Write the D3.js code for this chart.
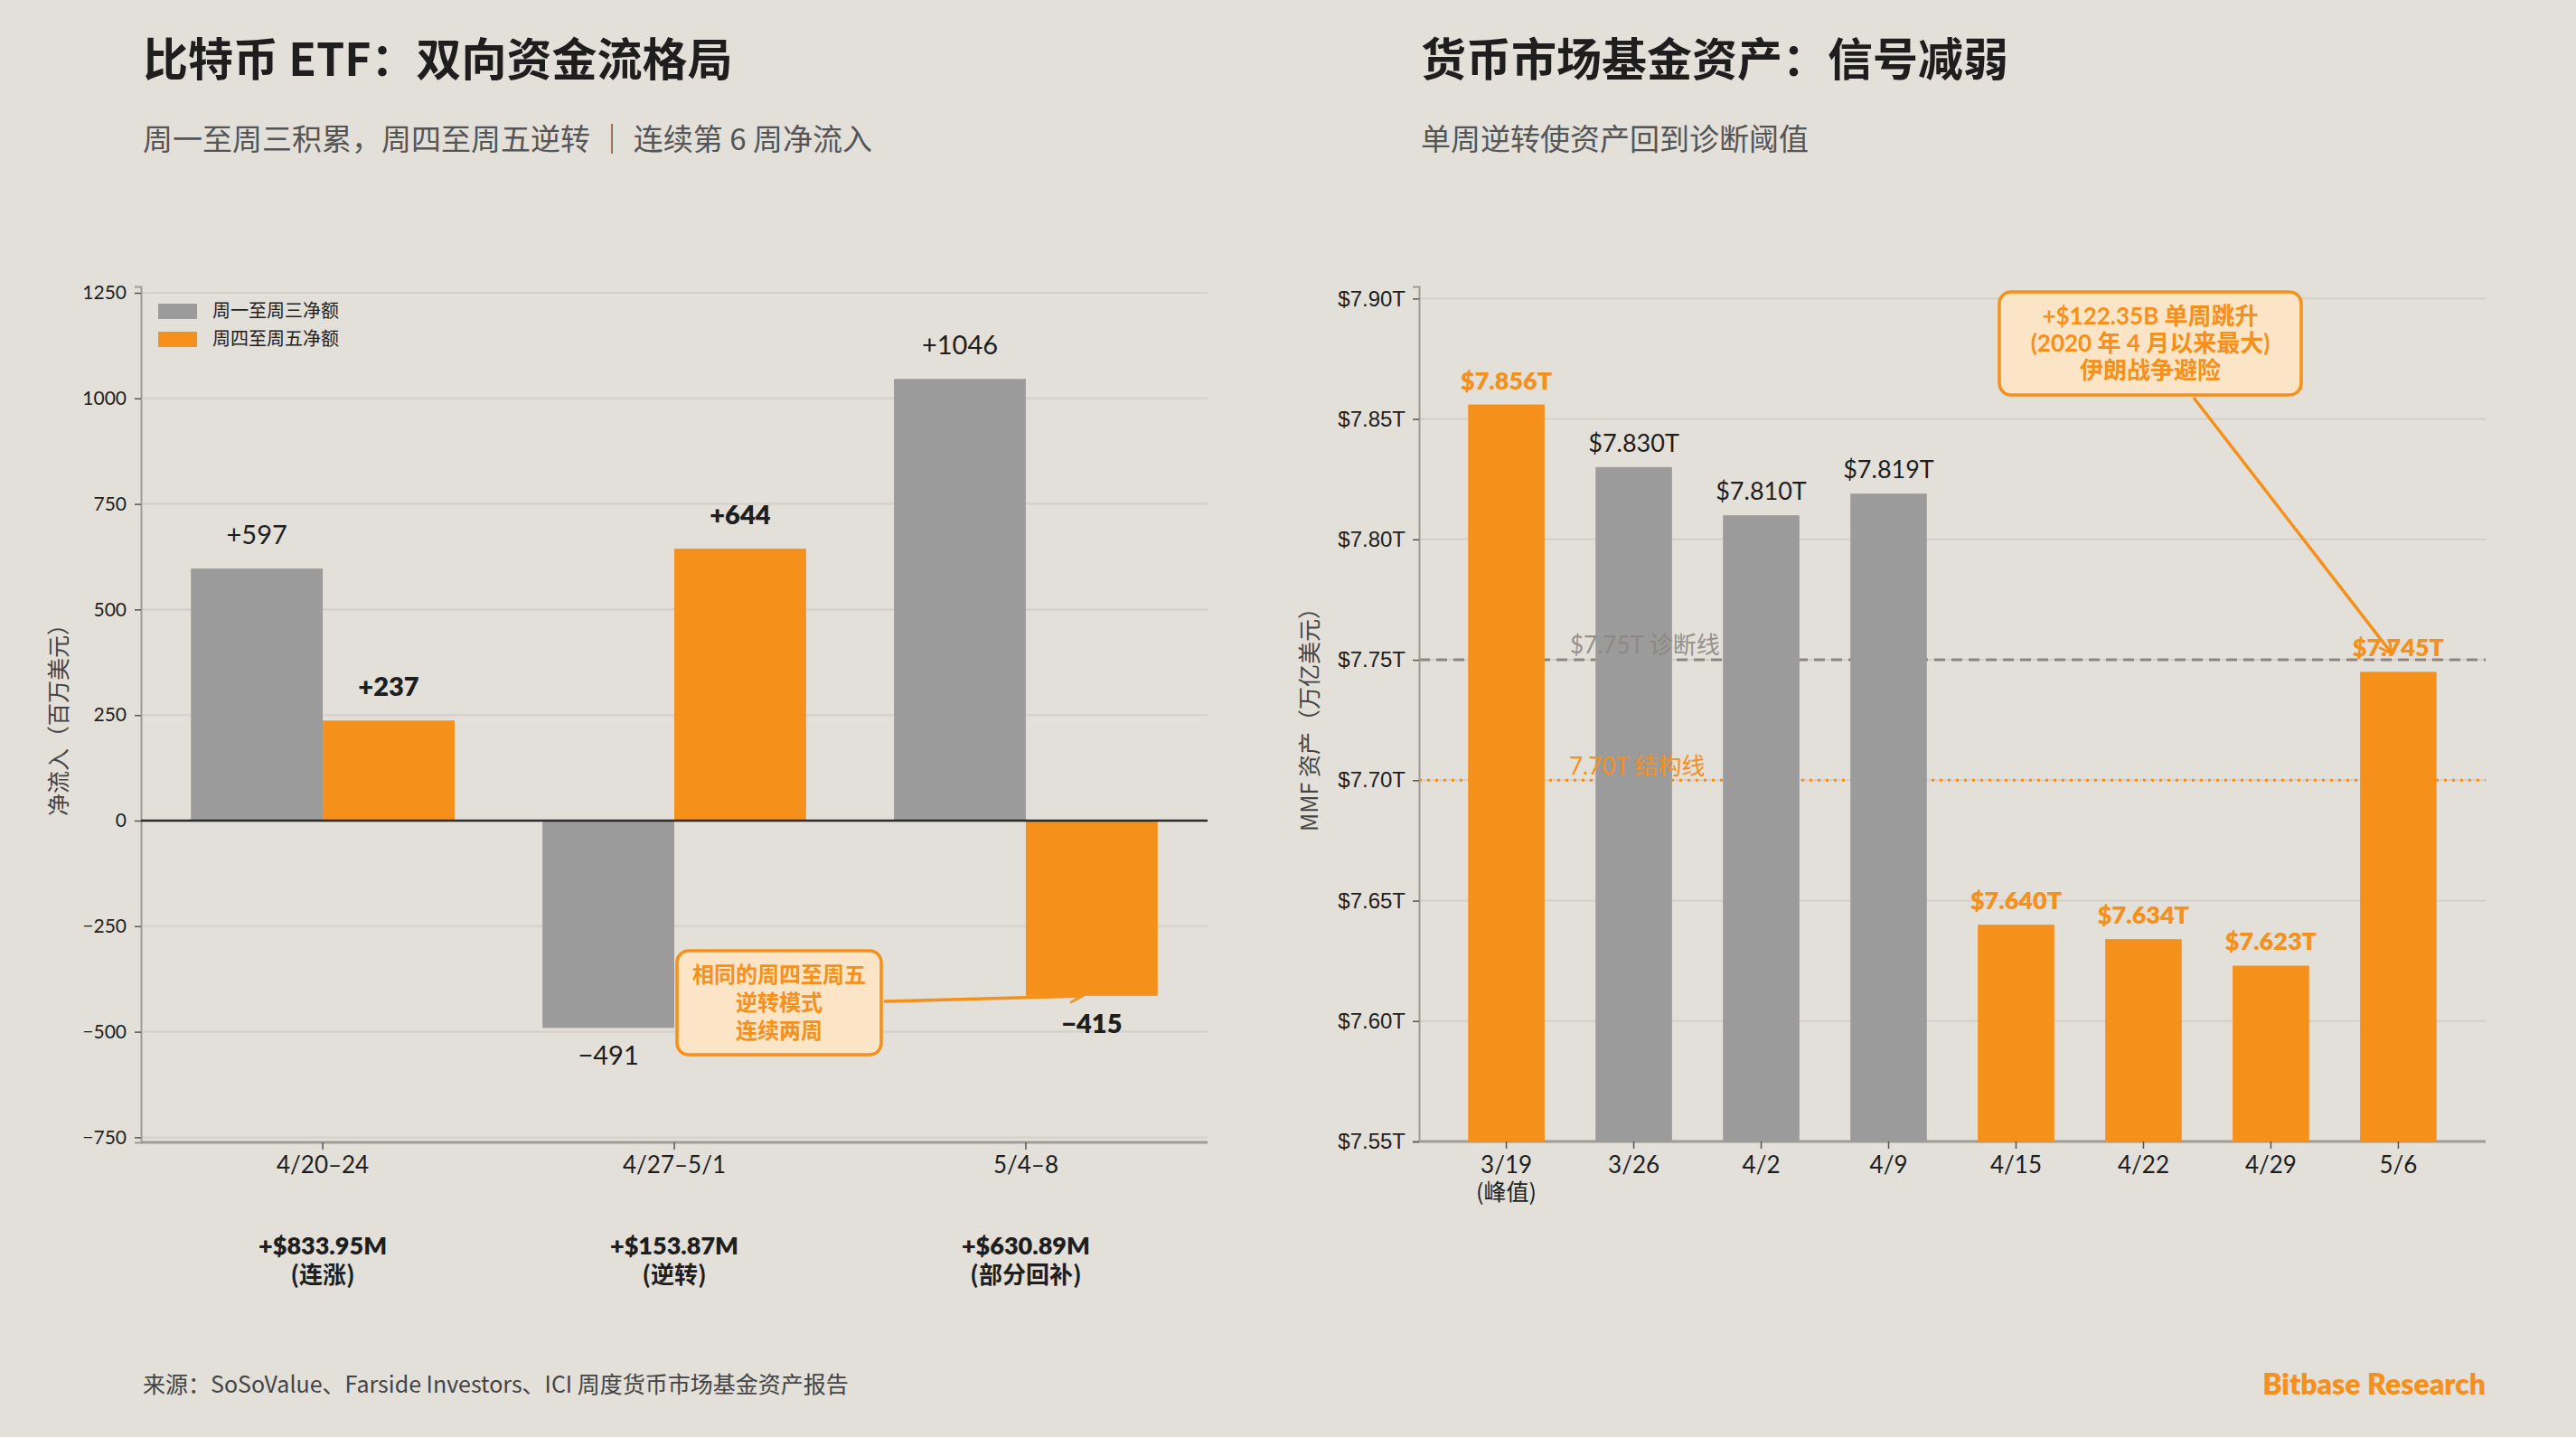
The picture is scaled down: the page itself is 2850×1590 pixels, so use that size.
<!DOCTYPE html>
<html>
<head>
<meta charset="utf-8">
<script src="https://cdn.jsdelivr.net/npm/d3@7"></script>
<style>
  body { margin: 0; background: #e3dfd9; }
  svg { display: block; font-family: Lato, "Noto Sans CJK SC", sans-serif; }
</style>
</head>
<body>
<div id="chart"></div>
<script>
// left panel: bitcoin ETF weekly flows (million USD)
const ETF_WEEKS = ['4/20–24', '4/27–5/1', '5/4–8'];
const ETF_MON_WED = [597, -491, 1046];
const ETF_THU_FRI = [237, 644, -415];
const ETF_TOTALS = ['+$833.95M', '+$153.87M', '+$630.89M'];
const ETF_NOTES = ['(连涨)', '(逆转)', '(部分回补)'];
const ETF_TICKS = [-750, -500, -250, 0, 250, 500, 750, 1000, 1250];

// right panel: money market fund assets (trillion USD)
const MMF_DATES = ['3/19', '3/26', '4/2', '4/9', '4/15', '4/22', '4/29', '5/6'];
const MMF_SUBLABELS = ['(峰值)', '', '', '', '', '', '', ''];
const MMF_ASSETS = [7.856, 7.830, 7.810, 7.819, 7.640, 7.634, 7.623, 7.745];
const MMF_HIGHLIGHT = [true, false, false, false, true, true, true, true];
const MMF_TICKS = [7.55, 7.60, 7.65, 7.70, 7.75, 7.80, 7.85, 7.90];
const MMF_DIAG = 7.75;
const MMF_STRUCT = 7.70;

const W = 2850, H = 1590;
const ORANGE = '#f5901a', GRAY = '#9b9b9b', BG = '#e3dfd9';
const GRID = '#d4cfc8', SPINE = '#9f9b96', INK = '#1e1e1e';
const PEACH = '#fce5c6';

const svg = d3.select('#chart').append('svg')
    .attr('width', W).attr('height', H);

svg.append('rect').attr('width', W).attr('height', H).attr('fill', BG);

const defs = svg.append('defs');
defs.append('marker')
    .attr('id', 'arrow')
    .attr('viewBox', '0 0 10 10')
    .attr('refX', 9).attr('refY', 5)
    .attr('markerWidth', 5).attr('markerHeight', 5)
    .attr('markerUnits', 'strokeWidth')
    .attr('orient', 'auto')
    .append('path')
    .attr('d', 'M1,1 L9,5 L1,9')
    .attr('fill', 'none')
    .attr('stroke', ORANGE)
    .attr('stroke-width', 1.6);

// titles
function header(x, title, subtitle) {
    svg.append('text').attr('x', x).attr('y', 84)
        .attr('font-size', 50).attr('font-weight', 700).attr('fill', INK)
        .attr('font-family', '"Noto Sans CJK SC", sans-serif')
        .text(title);
    svg.append('text').attr('x', x).attr('y', 166)
        .attr('font-size', 33).attr('fill', '#555')
        .attr('font-family', '"Noto Sans CJK SC", sans-serif')
        .text(subtitle);
}
header(158, '比特币 ETF：双向资金流格局', '周一至周三积累，周四至周五逆转 ｜ 连续第 6 周净流入');
header(1572, '货币市场基金资产：信号减弱', '单周逆转使资产回到诊断阈值');

// ---------- left panel ----------
const L = { left: 156, right: 1336, top: 317, bottom: 1264 };

let x0 = d3.scaleBand().domain(ETF_WEEKS)
    .range([L.left, L.right]).paddingInner(0.25).paddingOuter(0.142);
let x1 = d3.scaleBand().domain(['a', 'b']).range([0, x0.bandwidth()]);
let yL = d3.scaleLinear().domain([-762, 1265]).range([L.bottom, L.top]);

let left = svg.append('g');

left.append('g').selectAll('line').data(ETF_TICKS).enter().append('line')
    .attr('x1', L.left).attr('x2', L.right)
    .attr('y1', d => yL(d)).attr('y2', d => yL(d))
    .attr('stroke', GRID).attr('stroke-width', 2);

let yAxisL = left.append('g')
    .attr('transform', `translate(${L.left},0)`)
    .call(d3.axisLeft(yL).tickValues(ETF_TICKS).tickSize(7).tickPadding(9).tickFormat(d3.format('d')));
yAxisL.select('.domain').attr('stroke', SPINE).attr('stroke-width', 2);
yAxisL.selectAll('.tick line').attr('stroke', '#555').attr('stroke-width', 1.5);
yAxisL.selectAll('.tick text').attr('font-size', 21).attr('fill', INK)
    .attr('font-family', 'Lato, sans-serif');

let xAxisL = left.append('g')
    .attr('transform', `translate(0,${L.bottom})`)
    .call(d3.axisBottom(x0).tickSize(8).tickFormat(''));
xAxisL.select('.domain').attr('stroke', SPINE).attr('stroke-width', 3).attr('d', `M${L.left},0H${L.right}`);
xAxisL.selectAll('.tick line').attr('stroke', '#555').attr('stroke-width', 1.5);

// bars
const etfRows = ETF_WEEKS.map((w, i) => ({ week: w, a: ETF_MON_WED[i], b: ETF_THU_FRI[i] }));
let groups = left.append('g').selectAll('g').data(etfRows).enter().append('g')
    .attr('transform', d => `translate(${x0(d.week)},0)`);

groups.selectAll('rect')
    .data(d => [{ k: 'a', v: d.a }, { k: 'b', v: d.b }])
    .enter().append('rect')
    .attr('x', d => x1(d.k))
    .attr('width', x1.bandwidth())
    .attr('y', d => yL(Math.max(0, d.v)))
    .attr('height', d => Math.abs(yL(d.v) - yL(0)))
    .attr('fill', d => d.k === 'a' ? GRAY : ORANGE);

let fmtSigned = v => (v > 0 ? '+' : '−') + Math.abs(v);
groups.selectAll('text.val')
    .data(d => [{ k: 'a', v: d.a }, { k: 'b', v: d.b }])
    .enter().append('text')
    .attr('class', 'val')
    .attr('x', d => x1(d.k) + x1.bandwidth() / 2)
    .attr('y', d => d.v >= 0 ? yL(d.v) - 27 : yL(d.v) + 41)
    .attr('text-anchor', 'middle')
    .attr('font-size', 29)
    .attr('font-weight', d => d.k === 'b' ? 800 : 400)
    .attr('fill', INK)
    .text(d => fmtSigned(d.v));

// zero line
left.append('line')
    .attr('x1', L.left).attr('x2', L.right)
    .attr('y1', yL(0)).attr('y2', yL(0))
    .attr('stroke', '#2b2b2b').attr('stroke-width', 2.5);

// category + summary labels
let cat = left.append('g').selectAll('g').data(ETF_WEEKS).enter().append('g')
    .attr('transform', d => `translate(${x0(d) + x0.bandwidth() / 2},0)`)
    .attr('text-anchor', 'middle');
cat.append('text').attr('y', 1298).attr('font-size', 26).attr('fill', INK).text(d => d);
cat.append('text').attr('y', 1388).attr('font-size', 27).attr('font-weight', 800).attr('fill', INK)
    .text((d, i) => ETF_TOTALS[i]);
cat.append('text').attr('y', 1420).attr('font-size', 26).attr('font-weight', 700).attr('fill', INK)
    .attr('font-family', '"Noto Sans CJK SC", sans-serif')
    .text((d, i) => ETF_NOTES[i]);

// axis label
left.append('text')
    .attr('transform', `translate(74,${(L.top + L.bottom) / 2}) rotate(-90)`)
    .attr('text-anchor', 'middle')
    .attr('font-size', 25).attr('fill', '#444')
    .attr('font-family', '"Noto Sans CJK SC", sans-serif')
    .text('净流入（百万美元）');

// legend
let legend = left.append('g').attr('transform', 'translate(175,336)');
[['周一至周三净额', GRAY], ['周四至周五净额', ORANGE]].forEach((item, i) => {
    let row = legend.append('g').attr('transform', `translate(0,${i * 31})`);
    row.append('rect').attr('width', 43).attr('height', 17).attr('fill', item[1]);
    row.append('text').attr('x', 60).attr('y', 15).attr('font-size', 20).attr('fill', INK)
        .attr('font-family', '"Noto Sans CJK SC", sans-serif').text(item[0]);
});

// callout box
function callout(cx, top, w, h, lines, fs, lh) {
    let g = svg.append('g');
    g.append('rect')
        .attr('x', cx - w / 2).attr('y', top).attr('width', w).attr('height', h)
        .attr('rx', 13).attr('fill', PEACH).attr('stroke', ORANGE).attr('stroke-width', 3.5);
    lines.forEach((t, i) => {
        g.append('text')
            .attr('x', cx).attr('y', top + h / 2 + (i - (lines.length - 1) / 2) * lh + fs * 0.36)
            .attr('text-anchor', 'middle').attr('font-size', fs).attr('font-weight', 700)
            .attr('fill', ORANGE)
            .attr('font-family', 'Lato, "Noto Sans CJK SC", sans-serif')
            .text(t);
    });
    return g;
}
let etfLast = ETF_WEEKS.length - 1;
let tipL = [x0(ETF_WEEKS[etfLast]) + x1('b') + 63, yL(ETF_THU_FRI[etfLast])];
svg.append('line')
    .attr('x1', 978).attr('y1', 1108).attr('x2', tipL[0]).attr('y2', tipL[1])
    .attr('stroke', ORANGE).attr('stroke-width', 3.5).attr('marker-end', 'url(#arrow)');
callout(862, 1052, 226, 115, ['相同的周四至周五', '逆转模式', '连续两周'], 24, 31);

// ---------- right panel ----------
const R = { left: 1570, right: 2750, top: 317, bottom: 1263 };

let xR = d3.scaleBand().domain(MMF_DATES)
    .range([R.left, R.right]).paddingInner(0.4).paddingOuter(0.385);
let yR = d3.scaleLinear().domain([7.55, 7.905]).range([R.bottom, R.top]);

let right = svg.append('g');

right.append('g').selectAll('line').data(MMF_TICKS).enter().append('line')
    .attr('x1', R.left).attr('x2', R.right)
    .attr('y1', d => yR(d)).attr('y2', d => yR(d))
    .attr('stroke', GRID).attr('stroke-width', 2);

// reference lines (behind bars)
right.append('line')
    .attr('x1', R.left).attr('x2', R.right)
    .attr('y1', yR(MMF_DIAG)).attr('y2', yR(MMF_DIAG))
    .attr('stroke', '#8b8680').attr('stroke-width', 3).attr('stroke-dasharray', '12,7');
right.append('line')
    .attr('x1', R.left).attr('x2', R.right)
    .attr('y1', yR(MMF_STRUCT)).attr('y2', yR(MMF_STRUCT))
    .attr('stroke', ORANGE).attr('stroke-width', 3).attr('stroke-dasharray', '3,6');

let yAxisR = right.append('g')
    .attr('transform', `translate(${R.left},0)`)
    .call(d3.axisLeft(yR).tickValues(MMF_TICKS).tickSize(7).tickPadding(8)
        .tickFormat(d => '$' + d.toFixed(2) + 'T'));
yAxisR.select('.domain').attr('stroke', SPINE).attr('stroke-width', 2);
yAxisR.selectAll('.tick line').attr('stroke', '#555').attr('stroke-width', 1.5);
yAxisR.selectAll('.tick text').attr('font-size', 24).attr('fill', INK);

let xAxisR = right.append('g')
    .attr('transform', `translate(0,${R.bottom})`)
    .call(d3.axisBottom(xR).tickSize(8).tickFormat(''));
xAxisR.select('.domain').attr('stroke', SPINE).attr('stroke-width', 3).attr('d', `M${R.left},0H${R.right}`);
xAxisR.selectAll('.tick line').attr('stroke', '#555').attr('stroke-width', 1.5);

const mmfRows = MMF_DATES.map((d, i) => ({ date: d, v: MMF_ASSETS[i], hi: MMF_HIGHLIGHT[i], sub: MMF_SUBLABELS[i] }));

right.append('g').selectAll('rect').data(mmfRows).enter().append('rect')
    .attr('x', d => xR(d.date))
    .attr('width', xR.bandwidth())
    .attr('y', d => yR(d.v))
    .attr('height', d => yR(7.55) - yR(d.v))
    .attr('fill', d => d.hi ? ORANGE : GRAY);

// reference labels (over bars)
right.append('text').attr('x', 1737).attr('y', yR(MMF_DIAG) - 7)
    .attr('font-size', 26).attr('fill', '#8b8680').attr('fill-opacity', 0.9)
    .text('$7.75T 诊断线');
right.append('text').attr('x', 1736).attr('y', yR(MMF_STRUCT) - 6)
    .attr('font-size', 26).attr('fill', ORANGE)
    .text('7.70T 结构线');

right.append('g').selectAll('text').data(mmfRows).enter().append('text')
    .attr('x', d => xR(d.date) + xR.bandwidth() / 2)
    .attr('y', d => yR(d.v) - 17)
    .attr('text-anchor', 'middle')
    .attr('font-size', 27)
    .attr('font-weight', d => d.hi ? 800 : 400)
    .attr('fill', d => d.hi ? ORANGE : INK)
    .text(d => '$' + d.v.toFixed(3) + 'T');

let catR = right.append('g').selectAll('g').data(mmfRows).enter().append('g')
    .attr('transform', d => `translate(${xR(d.date) + xR.bandwidth() / 2},0)`)
    .attr('text-anchor', 'middle');
catR.append('text').attr('y', 1298).attr('font-size', 26).attr('fill', INK).text(d => d.date);
catR.append('text').attr('y', 1328).attr('font-size', 25).attr('fill', INK)
    .attr('font-family', '"Noto Sans CJK SC", sans-serif').text(d => d.sub);

right.append('text')
    .attr('transform', `translate(1458,${(R.top + R.bottom) / 2}) rotate(-90)`)
    .attr('text-anchor', 'middle')
    .attr('font-size', 25).attr('fill', '#444')
    .attr('font-family', '"Noto Sans CJK SC", sans-serif')
    .text('MMF 资产（万亿美元）');

let mmfLast = MMF_DATES.length - 1;
let tipR = [xR(MMF_DATES[mmfLast]) + xR.bandwidth() / 2 - 7, yR(MMF_ASSETS[mmfLast]) - 20];
svg.append('line')
    .attr('x1', 2427).attr('y1', 440).attr('x2', tipR[0]).attr('y2', tipR[1])
    .attr('stroke', ORANGE).attr('stroke-width', 3.5).attr('marker-end', 'url(#arrow)');
callout(2379, 323, 334, 114, ['+$122.35B 单周跳升', '(2020 年 4 月以来最大)', '伊朗战争避险'], 26, 30);

// footer
svg.append('text').attr('x', 158).attr('y', 1541)
    .attr('font-size', 25).attr('fill', '#444')
    .attr('font-family', '"Noto Sans CJK SC", sans-serif')
    .text('来源：SoSoValue、Farside Investors、ICI 周度货币市场基金资产报告');
svg.append('text').attr('x', 2750).attr('y', 1543)
    .attr('text-anchor', 'end')
    .attr('font-size', 32).attr('font-weight', 800).attr('fill', ORANGE)
    .text('Bitbase Research');
</script>
</body>
</html>
